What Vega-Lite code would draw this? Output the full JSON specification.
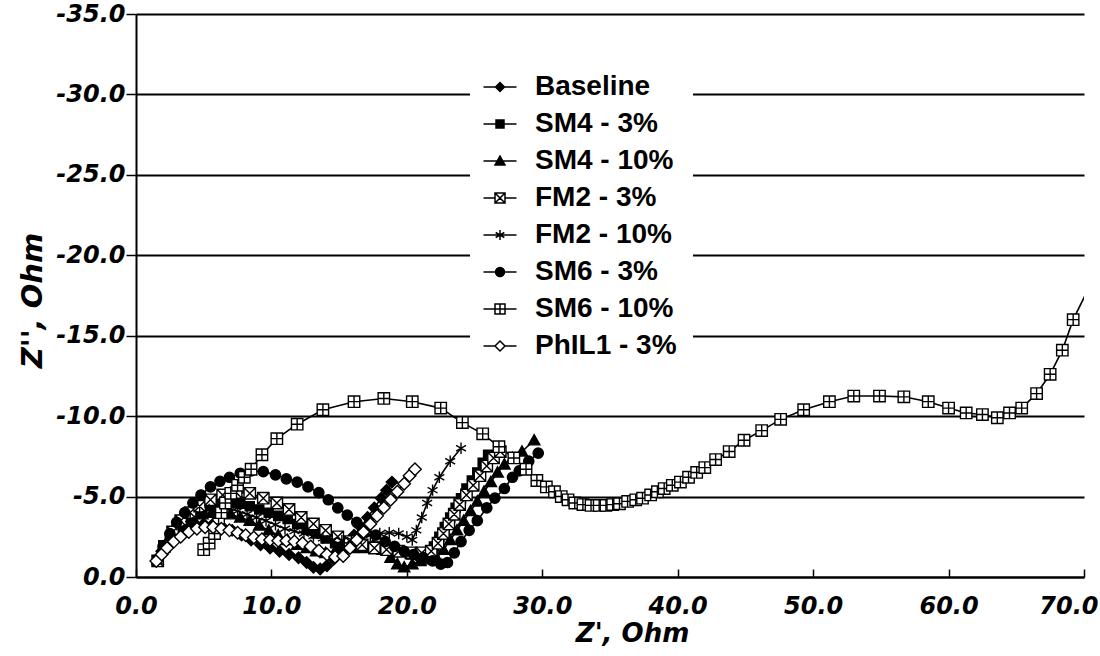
{
  "$schema": "https://vega.github.io/schema/vega-lite/v6.json",
  "autosize": {"type": "none"},
  "padding": {"left": 136, "top": 14, "right": 16, "bottom": 79},
  "width": 948,
  "height": 563,
  "background": "white",
  "config": {
    "view": {"stroke": null},
    "axis": {
      "labelFont": "DejaVu Sans", "labelFontSize": 24, "labelFontWeight": "bold", "labelFontStyle": "italic", "labelColor": "black",
      "titleFont": "DejaVu Sans", "titleFontSize": 26, "titleFontWeight": "bold", "titleFontStyle": "italic", "titleColor": "black",
      "domainColor": "black", "domainWidth": 2, "tickColor": "black", "tickWidth": 1.5,
      "labelFlush": false, "labelOverlap": false
    },
    "legend": {
      "orient": "none", "legendX": 334, "legendY": 43,
      "labelFont": "Liberation Sans", "labelFontSize": 28, "labelFontWeight": "bold", "labelColor": "black",
      "fillColor": "white", "padding": 16, "rowPadding": 9,
      "symbolSize": 100, "symbolStrokeColor": "black", "symbolStrokeWidth": 1.5, "symbolOpacity": 1,
      "labelOffset": 21, "labelLimit": 400
    }
  },
  "data": {"values": [
    {"series":"Baseline","x":1.5,"y":-1.0},{"series":"Baseline","x":1.9,"y":-1.6},{"series":"Baseline","x":2.4,"y":-2.2},{"series":"Baseline","x":3.0,"y":-2.7},{"series":"Baseline","x":3.6,"y":-3.0},{"series":"Baseline","x":4.3,"y":-3.2},{"series":"Baseline","x":5.0,"y":-3.3},{"series":"Baseline","x":5.7,"y":-3.3},{"series":"Baseline","x":6.4,"y":-3.1},{"series":"Baseline","x":7.1,"y":-2.9},{"series":"Baseline","x":7.8,"y":-2.6},{"series":"Baseline","x":8.5,"y":-2.3},{"series":"Baseline","x":9.2,"y":-2.0},{"series":"Baseline","x":9.9,"y":-1.8},{"series":"Baseline","x":10.6,"y":-1.6},{"series":"Baseline","x":11.3,"y":-1.4},{"series":"Baseline","x":12.0,"y":-1.2},{"series":"Baseline","x":12.6,"y":-0.9},{"series":"Baseline","x":13.1,"y":-0.6},{"series":"Baseline","x":13.6,"y":-0.5},{"series":"Baseline","x":14.1,"y":-0.7},{"series":"Baseline","x":14.6,"y":-1.1},{"series":"Baseline","x":15.1,"y":-1.6},{"series":"Baseline","x":15.6,"y":-2.1},{"series":"Baseline","x":16.1,"y":-2.6},{"series":"Baseline","x":16.6,"y":-3.1},{"series":"Baseline","x":17.1,"y":-3.7},{"series":"Baseline","x":17.6,"y":-4.3},{"series":"Baseline","x":18.1,"y":-4.9},{"series":"Baseline","x":18.5,"y":-5.4},{"series":"Baseline","x":18.9,"y":-5.9},
    {"series":"SM4 - 3%","x":1.6,"y":-1.0},{"series":"SM4 - 3%","x":2.0,"y":-1.7},{"series":"SM4 - 3%","x":2.5,"y":-2.4},{"series":"SM4 - 3%","x":3.0,"y":-3.0},{"series":"SM4 - 3%","x":3.6,"y":-3.5},{"series":"SM4 - 3%","x":4.2,"y":-3.9},{"series":"SM4 - 3%","x":4.9,"y":-4.2},{"series":"SM4 - 3%","x":5.6,"y":-4.45},{"series":"SM4 - 3%","x":6.3,"y":-4.6},{"series":"SM4 - 3%","x":7.0,"y":-4.6},{"series":"SM4 - 3%","x":7.7,"y":-4.55},{"series":"SM4 - 3%","x":8.4,"y":-4.4},{"series":"SM4 - 3%","x":9.1,"y":-4.2},{"series":"SM4 - 3%","x":9.8,"y":-4.0},{"series":"SM4 - 3%","x":10.5,"y":-3.8},{"series":"SM4 - 3%","x":11.2,"y":-3.6},{"series":"SM4 - 3%","x":11.9,"y":-3.3},{"series":"SM4 - 3%","x":12.6,"y":-3.0},{"series":"SM4 - 3%","x":13.3,"y":-2.7},{"series":"SM4 - 3%","x":14.0,"y":-2.4},{"series":"SM4 - 3%","x":14.7,"y":-2.1},{"series":"SM4 - 3%","x":15.4,"y":-1.9},{"series":"SM4 - 3%","x":16.1,"y":-1.8},{"series":"SM4 - 3%","x":16.8,"y":-1.8},{"series":"SM4 - 3%","x":17.5,"y":-1.9},{"series":"SM4 - 3%","x":18.2,"y":-1.9},{"series":"SM4 - 3%","x":18.9,"y":-1.8},{"series":"SM4 - 3%","x":19.6,"y":-1.6},{"series":"SM4 - 3%","x":20.3,"y":-1.4},{"series":"SM4 - 3%","x":21.0,"y":-1.3},{"series":"SM4 - 3%","x":21.6,"y":-1.4},{"series":"SM4 - 3%","x":22.0,"y":-1.9},{"series":"SM4 - 3%","x":22.4,"y":-2.5},{"series":"SM4 - 3%","x":22.8,"y":-3.1},{"series":"SM4 - 3%","x":23.2,"y":-3.7},{"series":"SM4 - 3%","x":23.6,"y":-4.3},{"series":"SM4 - 3%","x":24.0,"y":-4.9},{"series":"SM4 - 3%","x":24.4,"y":-5.5},{"series":"SM4 - 3%","x":24.8,"y":-6.0},{"series":"SM4 - 3%","x":25.2,"y":-6.5},{"series":"SM4 - 3%","x":25.6,"y":-7.1},{"series":"SM4 - 3%","x":26.0,"y":-7.6},
    {"series":"SM4 - 10%","x":1.6,"y":-1.1},{"series":"SM4 - 10%","x":2.0,"y":-1.8},{"series":"SM4 - 10%","x":2.5,"y":-2.5},{"series":"SM4 - 10%","x":3.0,"y":-3.0},{"series":"SM4 - 10%","x":3.6,"y":-3.4},{"series":"SM4 - 10%","x":4.2,"y":-3.7},{"series":"SM4 - 10%","x":4.9,"y":-3.9},{"series":"SM4 - 10%","x":5.6,"y":-4.0},{"series":"SM4 - 10%","x":6.3,"y":-4.0},{"series":"SM4 - 10%","x":7.0,"y":-3.9},{"series":"SM4 - 10%","x":7.7,"y":-3.7},{"series":"SM4 - 10%","x":8.4,"y":-3.5},{"series":"SM4 - 10%","x":9.1,"y":-3.2},{"series":"SM4 - 10%","x":9.8,"y":-2.9},{"series":"SM4 - 10%","x":10.5,"y":-2.6},{"series":"SM4 - 10%","x":11.2,"y":-2.3},{"series":"SM4 - 10%","x":11.9,"y":-2.0},{"series":"SM4 - 10%","x":12.6,"y":-1.8},{"series":"SM4 - 10%","x":13.3,"y":-1.6},{"series":"SM4 - 10%","x":14.0,"y":-1.5},{"series":"SM4 - 10%","x":14.7,"y":-1.6},{"series":"SM4 - 10%","x":15.4,"y":-1.8},{"series":"SM4 - 10%","x":16.1,"y":-2.0},{"series":"SM4 - 10%","x":16.8,"y":-2.1},{"series":"SM4 - 10%","x":17.5,"y":-2.0},{"series":"SM4 - 10%","x":18.2,"y":-1.7},{"series":"SM4 - 10%","x":18.8,"y":-1.2},{"series":"SM4 - 10%","x":19.3,"y":-0.8},{"series":"SM4 - 10%","x":19.8,"y":-0.6},{"series":"SM4 - 10%","x":20.4,"y":-0.8},{"series":"SM4 - 10%","x":21.0,"y":-1.0},{"series":"SM4 - 10%","x":21.6,"y":-1.1},{"series":"SM4 - 10%","x":22.2,"y":-1.2},{"series":"SM4 - 10%","x":22.7,"y":-1.7},{"series":"SM4 - 10%","x":23.2,"y":-2.3},{"series":"SM4 - 10%","x":23.7,"y":-2.9},{"series":"SM4 - 10%","x":24.2,"y":-3.5},{"series":"SM4 - 10%","x":24.7,"y":-4.1},{"series":"SM4 - 10%","x":25.2,"y":-4.7},{"series":"SM4 - 10%","x":25.7,"y":-5.3},{"series":"SM4 - 10%","x":26.2,"y":-5.9},{"series":"SM4 - 10%","x":26.7,"y":-6.5},{"series":"SM4 - 10%","x":27.2,"y":-7.0},{"series":"SM4 - 10%","x":27.8,"y":-7.4},{"series":"SM4 - 10%","x":28.5,"y":-7.8},{"series":"SM4 - 10%","x":29.4,"y":-8.5},
    {"series":"FM2 - 3%","x":1.6,"y":-1.0},{"series":"FM2 - 3%","x":2.1,"y":-1.9},{"series":"FM2 - 3%","x":2.7,"y":-2.8},{"series":"FM2 - 3%","x":3.3,"y":-3.5},{"series":"FM2 - 3%","x":4.0,"y":-4.0},{"series":"FM2 - 3%","x":4.7,"y":-4.4},{"series":"FM2 - 3%","x":5.5,"y":-4.8},{"series":"FM2 - 3%","x":6.4,"y":-5.1},{"series":"FM2 - 3%","x":7.4,"y":-5.25},{"series":"FM2 - 3%","x":8.4,"y":-5.2},{"series":"FM2 - 3%","x":9.4,"y":-4.9},{"series":"FM2 - 3%","x":10.4,"y":-4.6},{"series":"FM2 - 3%","x":11.3,"y":-4.2},{"series":"FM2 - 3%","x":12.2,"y":-3.7},{"series":"FM2 - 3%","x":13.1,"y":-3.3},{"series":"FM2 - 3%","x":14.0,"y":-2.9},{"series":"FM2 - 3%","x":14.9,"y":-2.5},{"series":"FM2 - 3%","x":15.8,"y":-2.2},{"series":"FM2 - 3%","x":16.7,"y":-2.0},{"series":"FM2 - 3%","x":17.6,"y":-1.8},{"series":"FM2 - 3%","x":18.5,"y":-1.7},{"series":"FM2 - 3%","x":19.4,"y":-1.6},{"series":"FM2 - 3%","x":20.3,"y":-1.5},{"series":"FM2 - 3%","x":21.1,"y":-1.5},{"series":"FM2 - 3%","x":21.8,"y":-1.6},{"series":"FM2 - 3%","x":22.3,"y":-2.1},{"series":"FM2 - 3%","x":22.7,"y":-2.7},{"series":"FM2 - 3%","x":23.1,"y":-3.3},{"series":"FM2 - 3%","x":23.5,"y":-3.9},{"series":"FM2 - 3%","x":23.9,"y":-4.5},{"series":"FM2 - 3%","x":24.4,"y":-5.1},{"series":"FM2 - 3%","x":24.9,"y":-5.7},{"series":"FM2 - 3%","x":25.4,"y":-6.3},{"series":"FM2 - 3%","x":25.9,"y":-6.9},{"series":"FM2 - 3%","x":26.4,"y":-7.4},{"series":"FM2 - 3%","x":26.9,"y":-7.8},
    {"series":"FM2 - 10%","x":1.6,"y":-1.0},{"series":"FM2 - 10%","x":2.1,"y":-1.8},{"series":"FM2 - 10%","x":2.7,"y":-2.5},{"series":"FM2 - 10%","x":3.3,"y":-3.1},{"series":"FM2 - 10%","x":4.0,"y":-3.6},{"series":"FM2 - 10%","x":4.7,"y":-3.95},{"series":"FM2 - 10%","x":5.4,"y":-4.2},{"series":"FM2 - 10%","x":6.1,"y":-4.3},{"series":"FM2 - 10%","x":6.8,"y":-4.25},{"series":"FM2 - 10%","x":7.5,"y":-4.1},{"series":"FM2 - 10%","x":8.2,"y":-3.9},{"series":"FM2 - 10%","x":8.9,"y":-3.7},{"series":"FM2 - 10%","x":9.6,"y":-3.5},{"series":"FM2 - 10%","x":10.3,"y":-3.25},{"series":"FM2 - 10%","x":11.0,"y":-3.0},{"series":"FM2 - 10%","x":11.7,"y":-2.85},{"series":"FM2 - 10%","x":12.4,"y":-2.7},{"series":"FM2 - 10%","x":13.1,"y":-2.55},{"series":"FM2 - 10%","x":13.8,"y":-2.4},{"series":"FM2 - 10%","x":14.5,"y":-2.3},{"series":"FM2 - 10%","x":15.2,"y":-2.25},{"series":"FM2 - 10%","x":15.9,"y":-2.3},{"series":"FM2 - 10%","x":16.6,"y":-2.45},{"series":"FM2 - 10%","x":17.3,"y":-2.6},{"series":"FM2 - 10%","x":18.0,"y":-2.7},{"series":"FM2 - 10%","x":18.7,"y":-2.75},{"series":"FM2 - 10%","x":19.4,"y":-2.7},{"series":"FM2 - 10%","x":20.0,"y":-2.5},{"series":"FM2 - 10%","x":20.4,"y":-2.3},{"series":"FM2 - 10%","x":20.7,"y":-2.9},{"series":"FM2 - 10%","x":21.1,"y":-3.7},{"series":"FM2 - 10%","x":21.5,"y":-4.6},{"series":"FM2 - 10%","x":21.9,"y":-5.4},{"series":"FM2 - 10%","x":22.4,"y":-6.2},{"series":"FM2 - 10%","x":23.2,"y":-7.2},{"series":"FM2 - 10%","x":24.0,"y":-8.0},
    {"series":"SM6 - 3%","x":1.6,"y":-1.1},{"series":"SM6 - 3%","x":2.0,"y":-1.9},{"series":"SM6 - 3%","x":2.5,"y":-2.7},{"series":"SM6 - 3%","x":3.0,"y":-3.4},{"series":"SM6 - 3%","x":3.6,"y":-4.0},{"series":"SM6 - 3%","x":4.2,"y":-4.6},{"series":"SM6 - 3%","x":4.8,"y":-5.1},{"series":"SM6 - 3%","x":5.5,"y":-5.6},{"series":"SM6 - 3%","x":6.2,"y":-5.95},{"series":"SM6 - 3%","x":6.9,"y":-6.2},{"series":"SM6 - 3%","x":7.7,"y":-6.45},{"series":"SM6 - 3%","x":8.5,"y":-6.6},{"series":"SM6 - 3%","x":9.4,"y":-6.55},{"series":"SM6 - 3%","x":10.3,"y":-6.35},{"series":"SM6 - 3%","x":11.1,"y":-6.1},{"series":"SM6 - 3%","x":11.9,"y":-5.9},{"series":"SM6 - 3%","x":12.7,"y":-5.6},{"series":"SM6 - 3%","x":13.5,"y":-5.25},{"series":"SM6 - 3%","x":14.2,"y":-4.8},{"series":"SM6 - 3%","x":14.9,"y":-4.3},{"series":"SM6 - 3%","x":15.6,"y":-3.85},{"series":"SM6 - 3%","x":16.3,"y":-3.4},{"series":"SM6 - 3%","x":17.0,"y":-3.0},{"series":"SM6 - 3%","x":17.7,"y":-2.6},{"series":"SM6 - 3%","x":18.4,"y":-2.2},{"series":"SM6 - 3%","x":19.1,"y":-1.9},{"series":"SM6 - 3%","x":19.8,"y":-1.6},{"series":"SM6 - 3%","x":20.5,"y":-1.4},{"series":"SM6 - 3%","x":21.2,"y":-1.2},{"series":"SM6 - 3%","x":21.9,"y":-1.0},{"series":"SM6 - 3%","x":22.5,"y":-0.8},{"series":"SM6 - 3%","x":23.0,"y":-0.9},{"series":"SM6 - 3%","x":23.5,"y":-1.5},{"series":"SM6 - 3%","x":24.0,"y":-2.2},{"series":"SM6 - 3%","x":24.6,"y":-2.9},{"series":"SM6 - 3%","x":25.2,"y":-3.5},{"series":"SM6 - 3%","x":25.9,"y":-4.3},{"series":"SM6 - 3%","x":26.5,"y":-4.9},{"series":"SM6 - 3%","x":27.2,"y":-5.5},{"series":"SM6 - 3%","x":27.8,"y":-6.2},{"series":"SM6 - 3%","x":28.3,"y":-6.6},{"series":"SM6 - 3%","x":29.0,"y":-7.2},{"series":"SM6 - 3%","x":29.7,"y":-7.7},
    {"series":"SM6 - 10%","x":5.0,"y":-1.7},{"series":"SM6 - 10%","x":5.4,"y":-2.1},{"series":"SM6 - 10%","x":5.8,"y":-2.7},{"series":"SM6 - 10%","x":6.1,"y":-3.3},{"series":"SM6 - 10%","x":6.3,"y":-4.0},{"series":"SM6 - 10%","x":6.6,"y":-4.6},{"series":"SM6 - 10%","x":7.0,"y":-5.2},{"series":"SM6 - 10%","x":7.5,"y":-5.7},{"series":"SM6 - 10%","x":8.0,"y":-6.2},{"series":"SM6 - 10%","x":8.5,"y":-6.7},{"series":"SM6 - 10%","x":9.3,"y":-7.6},{"series":"SM6 - 10%","x":10.4,"y":-8.6},{"series":"SM6 - 10%","x":11.9,"y":-9.5},{"series":"SM6 - 10%","x":13.8,"y":-10.4},{"series":"SM6 - 10%","x":16.1,"y":-10.9},{"series":"SM6 - 10%","x":18.3,"y":-11.1},{"series":"SM6 - 10%","x":20.4,"y":-10.9},{"series":"SM6 - 10%","x":22.5,"y":-10.5},{"series":"SM6 - 10%","x":24.1,"y":-9.6},{"series":"SM6 - 10%","x":25.6,"y":-8.9},{"series":"SM6 - 10%","x":26.8,"y":-8.1},{"series":"SM6 - 10%","x":27.9,"y":-7.4},{"series":"SM6 - 10%","x":28.8,"y":-6.7},{"series":"SM6 - 10%","x":29.6,"y":-6.0},{"series":"SM6 - 10%","x":30.3,"y":-5.6},{"series":"SM6 - 10%","x":30.9,"y":-5.3},{"series":"SM6 - 10%","x":31.4,"y":-5.0},{"series":"SM6 - 10%","x":31.9,"y":-4.8},{"series":"SM6 - 10%","x":32.4,"y":-4.6},{"series":"SM6 - 10%","x":33.0,"y":-4.5},{"series":"SM6 - 10%","x":33.6,"y":-4.45},{"series":"SM6 - 10%","x":34.2,"y":-4.45},{"series":"SM6 - 10%","x":34.7,"y":-4.45},{"series":"SM6 - 10%","x":35.2,"y":-4.5},{"series":"SM6 - 10%","x":35.7,"y":-4.55},{"series":"SM6 - 10%","x":36.3,"y":-4.7},{"series":"SM6 - 10%","x":36.9,"y":-4.8},{"series":"SM6 - 10%","x":37.4,"y":-4.9},{"series":"SM6 - 10%","x":38.0,"y":-5.1},{"series":"SM6 - 10%","x":38.5,"y":-5.3},{"series":"SM6 - 10%","x":39.0,"y":-5.5},{"series":"SM6 - 10%","x":39.6,"y":-5.7},{"series":"SM6 - 10%","x":40.2,"y":-5.9},{"series":"SM6 - 10%","x":40.8,"y":-6.2},{"series":"SM6 - 10%","x":41.4,"y":-6.5},{"series":"SM6 - 10%","x":42.0,"y":-6.8},{"series":"SM6 - 10%","x":42.8,"y":-7.3},{"series":"SM6 - 10%","x":43.8,"y":-7.8},{"series":"SM6 - 10%","x":44.9,"y":-8.5},{"series":"SM6 - 10%","x":46.2,"y":-9.1},{"series":"SM6 - 10%","x":47.6,"y":-9.8},{"series":"SM6 - 10%","x":49.3,"y":-10.4},{"series":"SM6 - 10%","x":51.2,"y":-10.9},{"series":"SM6 - 10%","x":53.0,"y":-11.25},{"series":"SM6 - 10%","x":54.9,"y":-11.25},{"series":"SM6 - 10%","x":56.7,"y":-11.2},{"series":"SM6 - 10%","x":58.5,"y":-10.9},{"series":"SM6 - 10%","x":60.0,"y":-10.5},{"series":"SM6 - 10%","x":61.3,"y":-10.2},{"series":"SM6 - 10%","x":62.5,"y":-10.1},{"series":"SM6 - 10%","x":63.6,"y":-9.9},{"series":"SM6 - 10%","x":64.5,"y":-10.2},{"series":"SM6 - 10%","x":65.4,"y":-10.5},{"series":"SM6 - 10%","x":66.5,"y":-11.4},{"series":"SM6 - 10%","x":67.5,"y":-12.6},{"series":"SM6 - 10%","x":68.4,"y":-14.1},{"series":"SM6 - 10%","x":69.2,"y":-16.0},{"series":"SM6 - 10%","x":70.6,"y":-18.4},
    {"series":"PhIL1 - 3%","x":1.5,"y":-1.0},{"series":"PhIL1 - 3%","x":1.9,"y":-1.4},{"series":"PhIL1 - 3%","x":2.3,"y":-1.8},{"series":"PhIL1 - 3%","x":2.8,"y":-2.2},{"series":"PhIL1 - 3%","x":3.3,"y":-2.5},{"series":"PhIL1 - 3%","x":3.9,"y":-2.8},{"series":"PhIL1 - 3%","x":4.5,"y":-3.0},{"series":"PhIL1 - 3%","x":5.1,"y":-3.1},{"series":"PhIL1 - 3%","x":5.7,"y":-3.1},{"series":"PhIL1 - 3%","x":6.3,"y":-3.0},{"series":"PhIL1 - 3%","x":6.9,"y":-2.9},{"series":"PhIL1 - 3%","x":7.5,"y":-2.75},{"series":"PhIL1 - 3%","x":8.1,"y":-2.6},{"series":"PhIL1 - 3%","x":8.7,"y":-2.45},{"series":"PhIL1 - 3%","x":9.3,"y":-2.35},{"series":"PhIL1 - 3%","x":9.9,"y":-2.3},{"series":"PhIL1 - 3%","x":10.5,"y":-2.25},{"series":"PhIL1 - 3%","x":11.1,"y":-2.25},{"series":"PhIL1 - 3%","x":11.7,"y":-2.2},{"series":"PhIL1 - 3%","x":12.3,"y":-2.1},{"series":"PhIL1 - 3%","x":12.9,"y":-1.9},{"series":"PhIL1 - 3%","x":13.5,"y":-1.65},{"series":"PhIL1 - 3%","x":14.1,"y":-1.4},{"series":"PhIL1 - 3%","x":14.7,"y":-1.25},{"series":"PhIL1 - 3%","x":15.3,"y":-1.3},{"series":"PhIL1 - 3%","x":15.8,"y":-1.8},{"series":"PhIL1 - 3%","x":16.3,"y":-2.3},{"series":"PhIL1 - 3%","x":16.8,"y":-2.8},{"series":"PhIL1 - 3%","x":17.3,"y":-3.3},{"series":"PhIL1 - 3%","x":17.8,"y":-3.8},{"series":"PhIL1 - 3%","x":18.3,"y":-4.3},{"series":"PhIL1 - 3%","x":18.8,"y":-4.8},{"series":"PhIL1 - 3%","x":19.3,"y":-5.3},{"series":"PhIL1 - 3%","x":19.8,"y":-5.8},{"series":"PhIL1 - 3%","x":20.2,"y":-6.3},{"series":"PhIL1 - 3%","x":20.6,"y":-6.7}
  ]},
  "encoding": {
    "x": {"field": "x", "type": "quantitative",
      "scale": {"domain": [0, 70], "nice": false, "zero": false},
      "axis": {"values": [0, 10, 20, 30, 40, 50, 60, 70], "format": ".1f", "grid": false,
        "tickSize": -8, "labelPadding": 25, "title": "Z', Ohm",
        "titleX": 496, "titleY": 43, "titleAlign": "center", "titleBaseline": "top",
        "labelAlign": {"expr": "datum.value == 70 ? 'right' : 'center'"},
        "labelOffset": {"expr": "datum.value == 70 ? 14 : 0"}}},
    "y": {"field": "y", "type": "quantitative",
      "scale": {"domain": [-35, 0], "reverse": true, "nice": false, "zero": false},
      "axis": {"values": [-35, -30, -25, -20, -15, -10, -5, 0], "format": ".1f",
        "labelExpr": "replace(datum.label, '\u2212', '-')",
        "grid": true, "gridColor": "black", "gridWidth": 2, "gridOpacity": 1,
        "tickSize": 10, "labelPadding": 1, "title": "Z'', Ohm", "titleFontSize": 29,
        "titleX": -104, "titleY": 286, "titleAngle": 270, "titleAlign": "center", "titleBaseline": "middle"}}
  },
  "layer": [
    {
      "mark": {"type": "line", "stroke": "black", "strokeWidth": 1.6, "clip": true},
      "encoding": {"detail": {"field": "series"}, "order": {"value": null}}
    },
    {
      "mark": {"type": "point", "filled": true, "stroke": "black", "strokeWidth": 1.4, "opacity": 1, "size": 130, "clip": true},
      "encoding": {
        "shape": {"field": "series", "type": "nominal", "legend": null,
          "scale": {"domain": ["Baseline","SM4 - 3%","SM4 - 10%","FM2 - 3%","FM2 - 10%","SM6 - 3%","SM6 - 10%","PhIL1 - 3%"],
            "range": ["M0,-1L1,0L0,1L-1,0Z","M-0.8,-0.8H0.8V0.8H-0.8Z","M0,-1L1,0.8H-1Z","M-1,-1H1V1H-1ZM-1,-1L1,1M-1,1L1,-1","M0,-1V1M-0.87,-0.5L0.87,0.5M-0.87,0.5L0.87,-0.5","M0.9,0A0.9,0.9,0,1,1,-0.9,0A0.9,0.9,0,1,1,0.9,0Z","M-1,-1H1V1H-1ZM0,-1V1M-1,0H1","M0,-1.1L1.1,0L0,1.1L-1.1,0Z"]}},
        "fill": {"field": "series", "type": "nominal", "legend": null,
          "scale": {"domain": ["Baseline","SM4 - 3%","SM4 - 10%","FM2 - 3%","FM2 - 10%","SM6 - 3%","SM6 - 10%","PhIL1 - 3%"],
            "range": ["black","black","black","white","white","black","white","white"]}}
      }
    },
    {
      "transform": [{"filter": "false"}],
      "mark": {"type": "point", "filled": true, "stroke": "black", "strokeWidth": 1.5, "opacity": 1, "size": 100},
      "encoding": {
        "shape": {"field": "series", "type": "nominal",
          "legend": {"title": null, "encode": {"symbols": {"update": {"stroke": {"value": "black"}, "strokeWidth": {"value": 1.5}, "opacity": {"value": 1}}}}},
          "scale": {"domain": ["Baseline","SM4 - 3%","SM4 - 10%","FM2 - 3%","FM2 - 10%","SM6 - 3%","SM6 - 10%","PhIL1 - 3%"],
            "range": ["M-3.3,0H3.3M0,-0.9L0.9,0L0,0.9L-0.9,0Z","M-3.3,0H3.3M-0.8,-0.8H0.8V0.8H-0.8Z","M-3.3,0H3.3M0,-1L1,0.8H-1Z","M-3.3,0H-1M1,0H3.3M-1,-1H1V1H-1ZM-1,-1L1,1M-1,1L1,-1","M-3.3,0H3.3M0,-1V1M-0.87,-0.5L0.87,0.5M-0.87,0.5L0.87,-0.5","M-3.3,0H3.3M0.9,0A0.9,0.9,0,1,1,-0.9,0A0.9,0.9,0,1,1,0.9,0Z","M-3.3,0H-1M1,0H3.3M-1,-1H1V1H-1ZM0,-1V1M-1,0H1","M-3.3,0H-1M1,0H3.3M0,-1L1,0L0,1L-1,0Z"]}},
        "fill": {"field": "series", "type": "nominal",
          "legend": {"title": null, "encode": {"symbols": {"update": {"stroke": {"value": "black"}, "strokeWidth": {"value": 1.5}, "opacity": {"value": 1}}}}},
          "scale": {"domain": ["Baseline","SM4 - 3%","SM4 - 10%","FM2 - 3%","FM2 - 10%","SM6 - 3%","SM6 - 10%","PhIL1 - 3%"],
            "range": ["black","black","black","white","white","black","white","white"]}}
      }
    }
  ],
  "resolve": {"scale": {"shape": "independent", "fill": "independent"}}
}
